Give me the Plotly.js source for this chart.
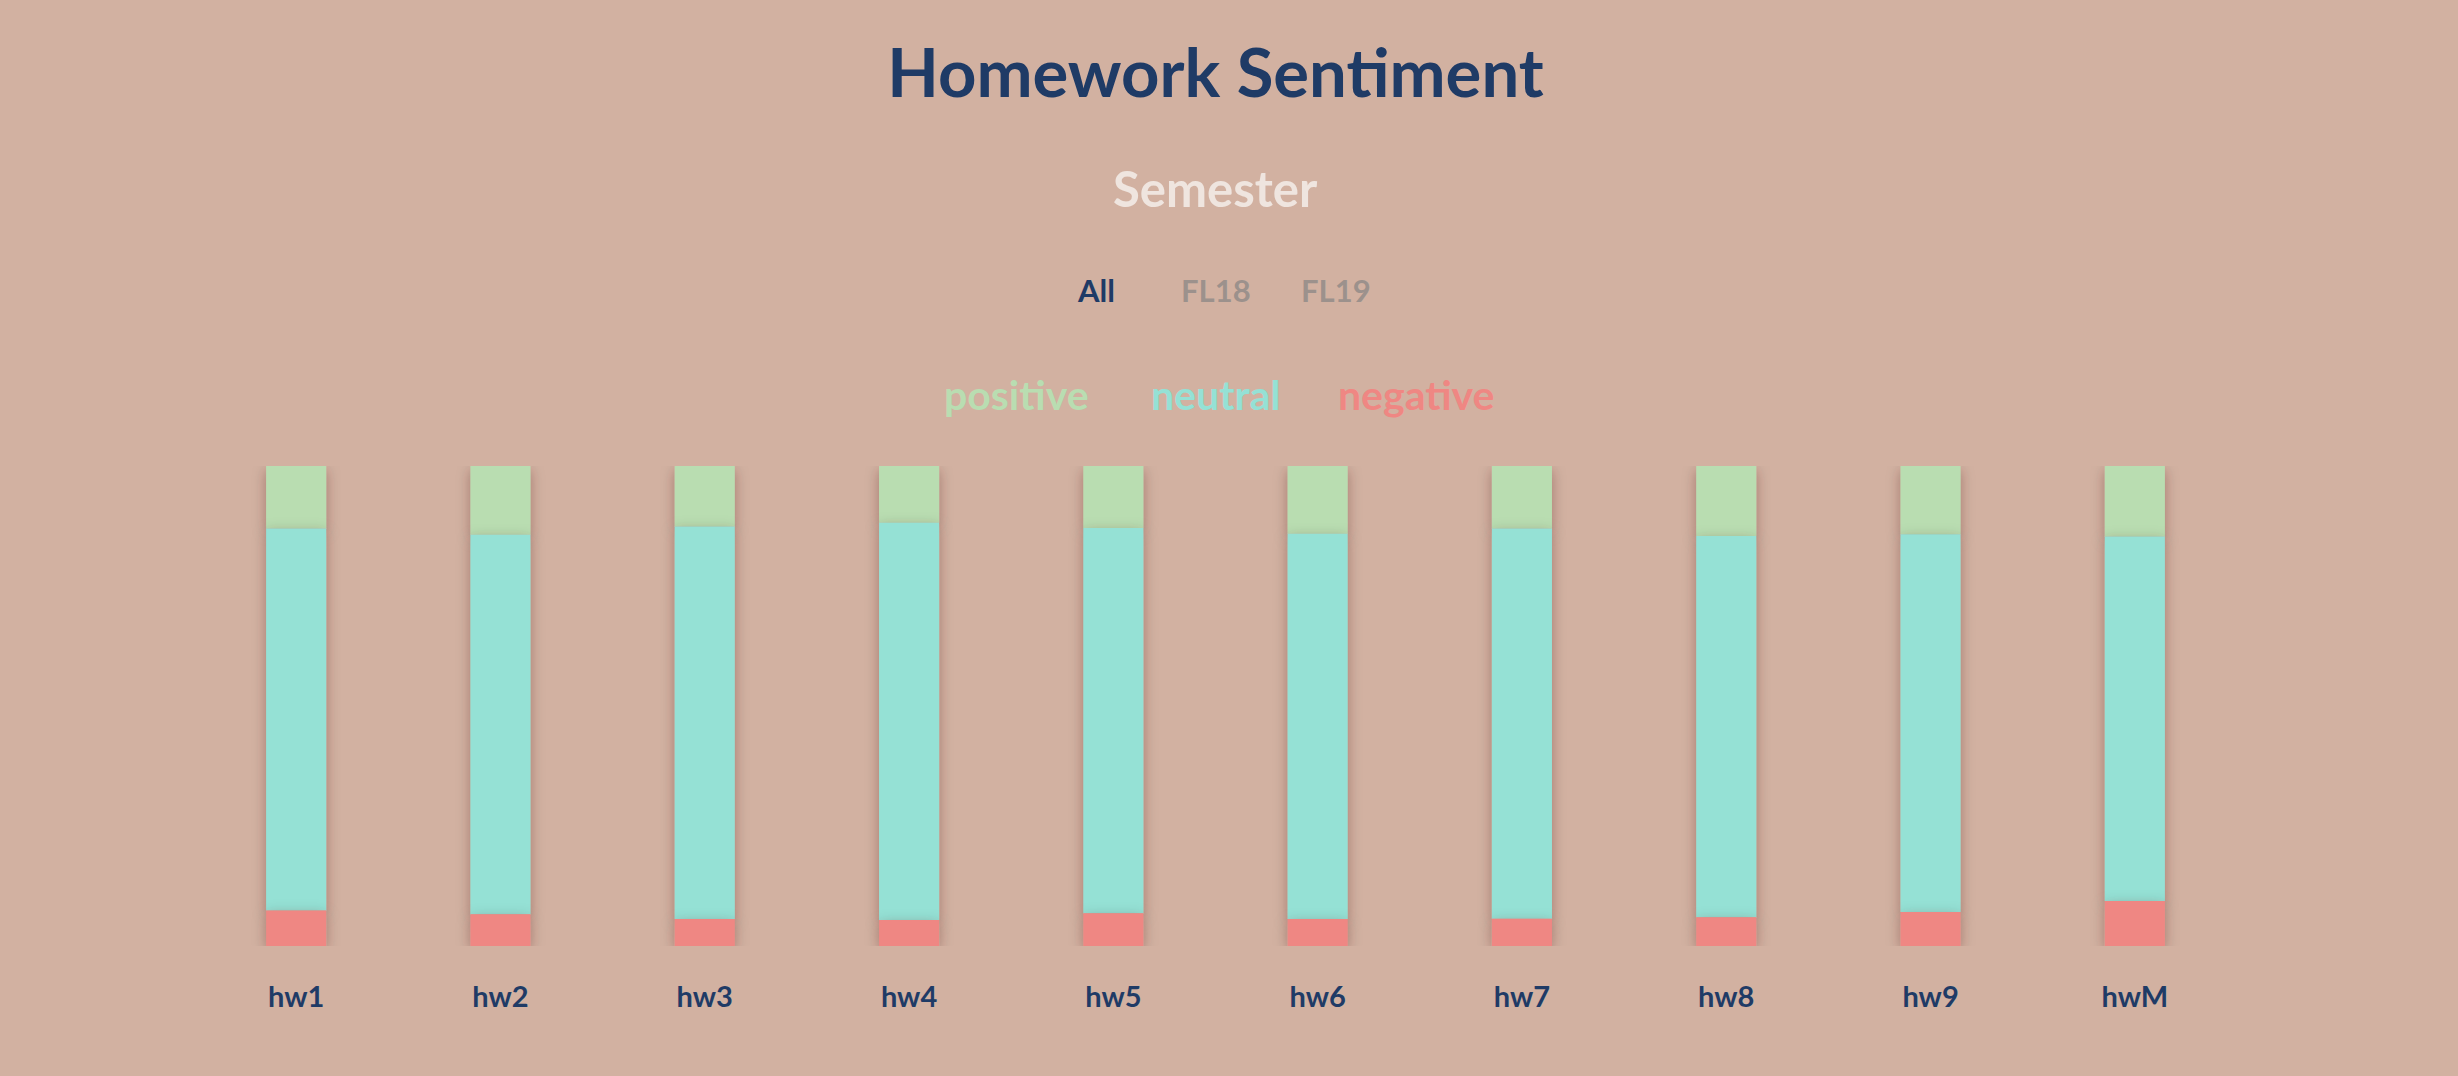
<!DOCTYPE html>
<html>
<head>
<meta charset="utf-8">
<script src="https://cdn.plot.ly/plotly-3.0.1.min.js"></script>
<style>
  html, body { margin: 0; padding: 0; background: #d2b1a1; }
  #chart { width: 2458px; height: 1076px; }
</style>
</head>
<body>
<div id="chart"></div>
<script>
// ---- data (percent of responses) ----
const homeworks = ["hw1", "hw2", "hw3", "hw4", "hw5", "hw6", "hw7", "hw8", "hw9", "hwM"];
const positive = [13.0, 14.3, 12.6, 11.8, 12.9, 14.1, 13.0, 14.6, 14.2, 14.7];
const neutral  = [79.6, 79.1, 81.8, 82.8, 80.3, 80.3, 81.3, 79.4, 78.7, 75.9];
const negative = [7.4, 6.6, 5.6, 5.4, 6.8, 5.6, 5.7, 6.0, 7.1, 9.4];
const sentiments = ["positive", "neutral", "negative"];
const semesters = ["All", "FL18", "FL19"];
const selectedSemester = "All";

// ---- styles ----
const COLORS = { positive: "#b9ddb1", neutral: "#95e1d5", negative: "#ef8783" };
const NAVY = "#1f3b66";
const FONT = "Lato, 'Noto Sans', sans-serif";

// stacking bases (negative at bottom, positive on top)
const baseNeutral = negative.slice();
const basePositive = negative.map((v, i) => v + neutral[i]);

function barTrace(name, values, base) {
  return {
    type: "bar",
    name: name,
    x: homeworks,
    y: values,
    base: base,
    width: 0.294,
    marker: { color: COLORS[name], line: { width: 0 } },
    hoverinfo: "x+y+name",
    showlegend: false
  };
}

// drawing order: positive first, negative last (for shadow overlap)
const data = [
  barTrace("positive", positive, basePositive),
  barTrace("neutral", neutral, baseNeutral),
  barTrace("negative", negative, negative.map(() => 0))
];

// paper coordinate helpers (plot area: x 194..2237, y 466..946)
const L = 194, R = 221, T = 466, B = 130, W = 2458, H = 1076;
const pw = W - L - R, ph = H - T - B;
const px = x => (x - L) / pw;
const py = y => (T + ph - y) / ph;

const annotations = [];
annotations.push({
  text: "Semester", xref: "paper", yref: "paper", x: px(1215.5), y: py(188),
  xanchor: "center", yanchor: "middle", showarrow: false,
  font: { family: FONT, size: 49, color: "#efe5df", weight: 700 }
});
const semX = [1096, 1216, 1336];
semesters.forEach((s, i) => {
  annotations.push({
    text: s, xref: "paper", yref: "paper", x: px(semX[i]), y: py(290),
    xanchor: "center", yanchor: "middle", showarrow: false,
    font: { family: FONT, size: 31, color: s === selectedSemester ? NAVY : "#9c918c", weight: 700 }
  });
});
const legX = [1016, 1215.5, 1416];
sentiments.forEach((s, i) => {
  annotations.push({
    text: s, xref: "paper", yref: "paper", x: px(legX[i]), y: py(394),
    xanchor: "center", yanchor: "middle", showarrow: false,
    font: { family: FONT, size: 41, color: COLORS[s], weight: 700 }
  });
});

const layout = {
  width: W, height: H,
  paper_bgcolor: "#d2b1a1",
  plot_bgcolor: "#d2b1a1",
  margin: { l: L, r: R, t: T, b: B, pad: 0 },
  barmode: "overlay",
  title: {
    text: "Homework Sentiment",
    xref: "container", yref: "container",
    x: 1215.5 / W, xanchor: "center",
    y: 1 - 74 / H, yanchor: "middle",
    font: { family: FONT, size: 67, color: NAVY, weight: 700 }
  },
  xaxis: {
    type: "category",
    range: [-0.5, 9.5],
    showgrid: false, zeroline: false, showline: false,
    ticks: "", ticklabelstandoff: 31,
    tickfont: { family: FONT, size: 29, color: NAVY, weight: 700 },
    fixedrange: true
  },
  yaxis: {
    range: [0, 100],
    showgrid: false, zeroline: false, showline: false,
    showticklabels: false, ticks: "",
    fixedrange: true
  },
  annotations: annotations,
  showlegend: false
};

Plotly.newPlot("chart", data, layout, { displayModeBar: false, staticPlot: true }).then(gd => {
  // soft drop shadow on each bar segment
  const svg = gd.querySelector("svg.main-svg");
  const NS = "http://www.w3.org/2000/svg";
  let defs = svg.querySelector("defs");
  if (!defs) { defs = document.createElementNS(NS, "defs"); svg.insertBefore(defs, svg.firstChild); }
  const f = document.createElementNS(NS, "filter");
  f.setAttribute("id", "barShadow");
  f.setAttribute("x", "-50%"); f.setAttribute("y", "-50%");
  f.setAttribute("width", "200%"); f.setAttribute("height", "200%");
  const ds = document.createElementNS(NS, "feDropShadow");
  ds.setAttribute("dx", "0"); ds.setAttribute("dy", "4");
  ds.setAttribute("stdDeviation", "7");
  ds.setAttribute("flood-color", "#3a1a10"); ds.setAttribute("flood-opacity", "0.32");
  f.appendChild(ds);
  defs.appendChild(f);
  gd.querySelectorAll(".barlayer .point path").forEach(p => p.setAttribute("filter", "url(#barShadow)"));
});
</script>
</body>
</html>
